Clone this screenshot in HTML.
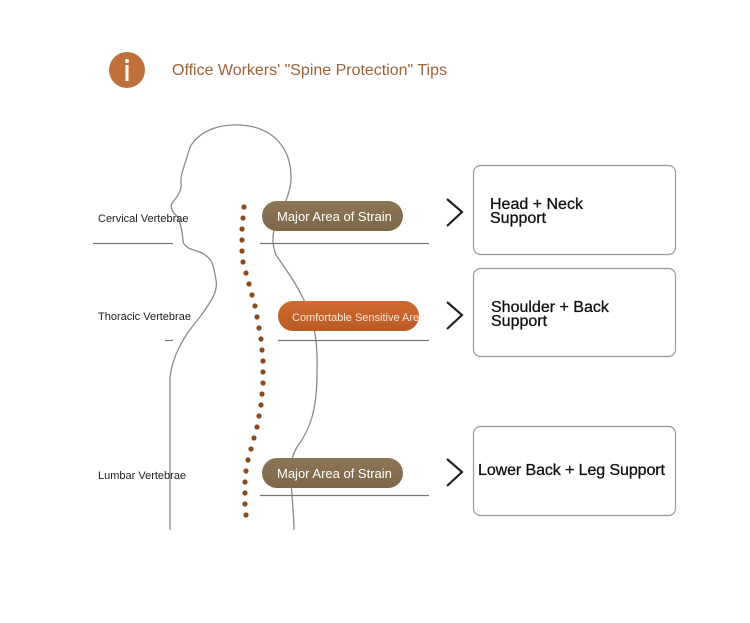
<!DOCTYPE html>
<html><head><meta charset="utf-8"><style>
body{margin:0;background:#fff;}
svg{display:block;font-family:"Liberation Sans",sans-serif;}
</style></head><body>
<svg width="750" height="623" viewBox="0 0 750 623" xmlns="http://www.w3.org/2000/svg">
<defs>
<linearGradient id="g1" x1="0" x2="0" y1="0" y2="1"><stop offset="0" stop-color="#8d7657"/><stop offset="1" stop-color="#7e6749"/></linearGradient>
<linearGradient id="g2" x1="0" x2="0" y1="0" y2="1"><stop offset="0" stop-color="#d06a30"/><stop offset="1" stop-color="#b85a26"/></linearGradient>
</defs>
<circle cx="127" cy="70" r="18" fill="#c0703a"/>
<circle cx="127" cy="61" r="2" fill="#fff"/>
<rect x="125.5" y="65" width="3" height="16" fill="#fff"/>
<text x="172" y="75" font-size="16" fill="#9c6238" textLength="275">Office Workers' "Spine Protection" Tips</text>

<path d="M170,530 L170,377 C172,360 180,340 200,317 C212,300 218,292 216,280 C213,262 212,258 200,252 C190,249 183,247 183,240 C182,230 180,222 178,217 C172,212 170,208 172,203 C178,196 182,190 181,183 C180,175 185,165 190,147 C200,130 220,124 240,125 C275,127 292,150 291,180 C290,195 282,210 276,222 C272,235 272,245 276,255 C290,275 300,290 306,305 C314,322 318,340 317,373 C317,410 310,430 297,447 C292,456 290,463 291,480 C292,500 294,515 294,530" fill="none" stroke="#8a8a8a" stroke-width="1.3"/>

<g fill="#8a4a1e">
<circle cx="244" cy="207" r="2.6"/><circle cx="243" cy="218" r="2.6"/><circle cx="242" cy="229" r="2.6"/><circle cx="242" cy="240" r="2.6"/><circle cx="242" cy="251" r="2.6"/><circle cx="243" cy="262" r="2.6"/><circle cx="246" cy="273" r="2.6"/><circle cx="249" cy="284" r="2.6"/><circle cx="252" cy="295" r="2.6"/><circle cx="255" cy="306" r="2.6"/><circle cx="257" cy="317" r="2.6"/><circle cx="259" cy="328" r="2.6"/><circle cx="261" cy="339" r="2.6"/><circle cx="262" cy="350" r="2.6"/><circle cx="263" cy="361" r="2.6"/><circle cx="263" cy="372" r="2.6"/><circle cx="263" cy="383" r="2.6"/><circle cx="262" cy="394" r="2.6"/><circle cx="261" cy="405" r="2.6"/><circle cx="259" cy="416" r="2.6"/><circle cx="257" cy="427" r="2.6"/><circle cx="254" cy="438" r="2.6"/><circle cx="251" cy="449" r="2.6"/><circle cx="248" cy="460" r="2.6"/><circle cx="246" cy="471" r="2.6"/><circle cx="245" cy="482" r="2.6"/><circle cx="245" cy="493" r="2.6"/><circle cx="245" cy="504" r="2.6"/><circle cx="246" cy="515" r="2.6"/>
</g>

<g stroke="#777" stroke-width="1.2">
<line x1="93" y1="243.5" x2="173" y2="243.5"/><line x1="260" y1="243.5" x2="429" y2="243.5"/>
<line x1="165" y1="340.5" x2="173" y2="340.5"/><line x1="278" y1="340.5" x2="429" y2="340.5"/>
<line x1="260" y1="495.5" x2="429" y2="495.5"/>
</g>

<g font-size="11" fill="#222">
<text x="98" y="222">Cervical Vertebrae</text>
<text x="98" y="320">Thoracic Vertebrae</text>
<text x="98" y="479">Lumbar Vertebrae</text>
</g>

<rect x="262" y="201" width="141" height="30" rx="15" fill="url(#g1)"/>
<text x="277" y="221" font-size="13" fill="#fff">Major Area of Strain</text>
<rect x="278" y="301" width="141" height="30" rx="15" fill="url(#g2)"/>
<text x="292" y="321" font-size="11" fill="#fbe8d8">Comfortable Sensitive Area</text>
<rect x="262" y="458" width="141" height="30" rx="15" fill="url(#g1)"/>
<text x="277" y="478" font-size="13" fill="#fff">Major Area of Strain</text>

<g fill="none" stroke="#222" stroke-width="2.2">
<polyline points="447,199 462,212 447,226"/>
<polyline points="447,302 462,315 447,329"/>
<polyline points="447,459 462,472 447,486"/>
</g>

<g fill="#fff" stroke="#9a9a9a" stroke-width="1.2">
<rect x="473.5" y="165.5" width="202" height="89" rx="7"/>
<rect x="473.5" y="268.5" width="202" height="88" rx="7"/>
<rect x="473.5" y="426.5" width="202" height="89" rx="7"/>
</g>
<g font-size="16" fill="#111" stroke="#111" stroke-width="0.3">
<text x="490" y="209">Head + Neck</text>
<text x="490" y="223">Support</text>
<text x="491" y="312">Shoulder + Back</text>
<text x="491" y="326">Support</text>
<text x="478" y="475" textLength="187">Lower Back + Leg Support</text>
</g>
</svg>
</body></html>
